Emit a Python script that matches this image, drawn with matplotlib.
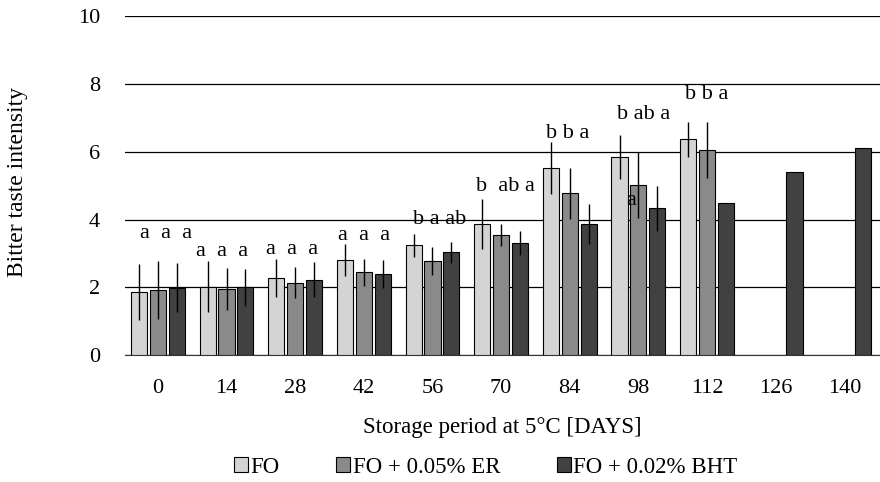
import numpy as np
import matplotlib.pyplot as plt

plt.rcParams['font.family'] = ['Liberation Serif', 'DejaVu Serif']

# Data
days = ['0', '14', '28', '42', '56', '70', '84', '98', '112', '126', '140']
fo = [1.87, 2.02, 2.28, 2.81, 3.24, 3.86, 5.51, 5.84, 6.36, np.nan, np.nan]
fo_err = [0.82, 0.75, 0.55, 0.47, 0.34, 0.73, 0.76, 0.65, 0.51, np.nan, np.nan]
er = [1.92, 1.95, 2.14, 2.44, 2.77, 3.54, 4.77, 5.01, 6.04, np.nan, np.nan]
er_err = [0.85, 0.63, 0.46, 0.41, 0.41, 0.32, 0.75, 0.98, 0.83, np.nan, np.nan]
bht = [1.99, 2.00, 2.23, 2.40, 3.03, 3.31, 3.87, 4.33, 4.50, 5.40, 6.10]
bht_err = [0.72, 0.54, 0.52, 0.41, 0.31, 0.36, 0.58, 0.67, np.nan, np.nan, np.nan]

# significance letters above each group
letters = ['a  a  a', 'a  a  a', 'a  a  a', 'a  a  a', 'b a ab', 'b  ab a',
           'b b a', 'b ab a', 'b b a']
letter_y = [3.6, 3.05, 3.13, 3.52, 4.01, 4.97, 6.52, 7.1, 7.69]
letter_dx = [0.12, -0.06, -0.04, 0.01, 0.1, 0.06, -0.03, 0.07, 0.0]

x = np.arange(len(days))
w = 0.235
off = 0.275

fig = plt.figure(figsize=(8.8, 4.82), dpi=100)
ax = fig.add_axes([0.142, 0.263, 0.858, 0.704])

series = [(fo, fo_err, '#d4d4d4', 'FO'),
          (er, er_err, '#8a8a8a', 'FO + 0.05% ER'),
          (bht, bht_err, '#414141', 'FO + 0.02% BHT')]
for i, (vals, errs, col, lab) in enumerate(series):
    pos = x + (i - 1) * off
    ax.bar(pos, vals, width=w, color=col, edgecolor='black', linewidth=0.8,
           label=lab, zorder=3)
    ax.errorbar(pos, vals, yerr=errs, fmt='none', ecolor='black',
                elinewidth=1.0, capsize=0, zorder=4)

for i, s in enumerate(letters):
    ax.text(x[i] + letter_dx[i], letter_y[i], s, ha='center', va='center',
            fontsize=16)
# stray letter near the ER bar at day 98
ax.text(x[7] - 0.1, 4.57, 'a', ha='center', va='center', fontsize=16)

ax.set_xlim(-0.48, 10.52)
ax.set_ylim(0, 10)
ax.set_yticks([0, 2, 4, 6, 8, 10])
ax.set_xticks(x)
ax.set_xticklabels(days)
ax.yaxis.grid(True, color='black', linewidth=0.9, zorder=0)
ax.set_axisbelow(True)
for side in ['top', 'right', 'left']:
    ax.spines[side].set_visible(False)
ax.spines['bottom'].set_color('#333333')
ax.tick_params(axis='both', length=0, labelsize=16)
ax.tick_params(axis='y', pad=18)
ax.tick_params(axis='x', pad=17)
ax.set_ylabel('Bitter taste intensity', fontsize=17)
ax.yaxis.set_label_coords(-0.128, 0.51)
ax.set_xlabel('Storage period at 5°C [DAYS]', fontsize=16.5, labelpad=14)

fig.legend(loc='center', bbox_to_anchor=(0.552, 0.031), ncol=3, frameon=False,
           fontsize=16.5, handlelength=0.6, handleheight=0.6, handletextpad=0.1,
           columnspacing=2.5)

fig.savefig('out.png', dpi=100)
